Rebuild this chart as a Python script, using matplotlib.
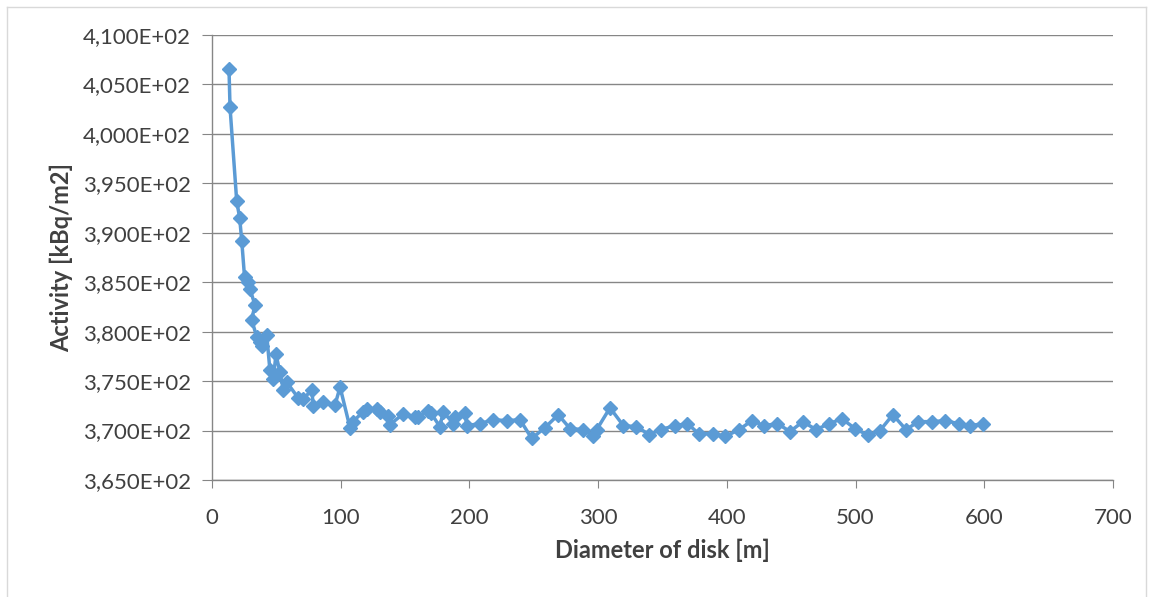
import matplotlib
matplotlib.use("Agg")
import matplotlib.pyplot as plt
from matplotlib.lines import Line2D
from matplotlib.ticker import FuncFormatter, MultipleLocator

# diameter of disk [m]
diameter = [13.2, 14.0, 19.2, 21.5, 23.1, 25.3, 28.2, 29.5, 33.4, 30.8,
            34.7, 37.3, 38.9, 42.5, 45.0, 47.6, 49.7, 52.8, 55.4, 58.0,
            67.0, 70.9, 77.5, 78.7, 86.5, 95.6, 99.5, 107.2, 109.3, 117.6,
            120.2, 128.0, 130.5, 137.0, 138.3, 148.6, 157.7, 160.0, 168.0, 170.0,
            177.0, 179.7, 187.5, 188.8, 196.6, 197.9, 208.0, 218.6, 229.0, 239.3,
            248.4, 258.7, 269.0, 278.2, 288.5, 296.3, 298.9, 309.2, 319.6, 329.5,
            339.8, 348.6, 359.8, 369.4, 378.0, 389.5, 398.6, 409.7, 419.3, 428.9,
            439.3, 449.1, 459.0, 469.3, 479.7, 489.3, 499.6, 510.0, 519.0, 528.9,
            539.2, 548.8, 559.0, 569.5, 580.0, 589.0, 599.3]

# activity [kBq/m2]
activity = [406.6, 402.7, 393.2, 391.5, 389.2, 385.5, 385.0, 384.3, 382.7, 381.2,
            379.5, 379.0, 378.5, 379.7, 376.1, 375.2, 377.7, 375.9, 374.1, 374.9,
            373.3, 373.2, 374.1, 372.5, 372.9, 372.6, 374.4, 370.3, 370.9, 371.9,
            372.2, 372.2, 371.9, 371.5, 370.6, 371.7, 371.4, 371.4, 372.0, 371.8,
            370.4, 371.9, 370.7, 371.4, 371.8, 370.5, 370.7, 371.1, 371.0, 371.1,
            369.2, 370.3, 371.6, 370.2, 370.1, 369.4, 370.1, 372.3, 370.5, 370.4,
            369.6, 370.1, 370.5, 370.7, 369.7, 369.7, 369.4, 370.1, 371.0, 370.5,
            370.7, 369.9, 370.9, 370.1, 370.7, 371.2, 370.2, 369.5, 370.0, 371.6,
            370.1, 370.9, 370.9, 371.0, 370.7, 370.5, 370.7]

plt.rcParams['font.family'] = ['Lato', 'DejaVu Sans']

fig = plt.figure(figsize=(11.51, 5.97), dpi=100)
ax = fig.add_axes([212/1151, 1 - 480/597, (1113 - 212)/1151, (480 - 35)/597])

ax.plot(diameter, activity, color='#5B9BD5', lw=2.5, marker='D', ms=7,
        markeredgecolor='#5B9BD5', zorder=3)

ax.set_xlim(0, 700)
ax.set_ylim(365, 410)
ax.xaxis.set_major_locator(MultipleLocator(100))
ax.yaxis.set_major_locator(MultipleLocator(5))
ax.yaxis.set_major_formatter(FuncFormatter(
    lambda v, p: f"{v/100:.3f}".replace('.', ',') + "E+02"))

ax.grid(axis='y', color='#868686', lw=1)
ax.set_axisbelow(True)
for s in ['top', 'right']:
    ax.spines[s].set_visible(False)
for s in ['left', 'bottom']:
    ax.spines[s].set_color('#868686')
    ax.spines[s].set_linewidth(1)

ax.tick_params(axis='y', direction='out', length=7, color='#868686',
               labelsize=16, labelcolor='#404040', pad=8)
ax.tick_params(axis='x', direction='out', length=6, color='#868686',
               labelsize=16, labelcolor='#404040', pad=14)

ax.set_xlabel('Diameter of disk [m]', fontsize=17, fontweight='bold',
              color='#404040', labelpad=8)
ax.set_ylabel('Activity [kBq/m2]', fontsize=17, fontweight='bold',
              color='#404040', labelpad=7)

# chart area border
W, H = 1151, 597
bc = '#d9d9d9'
fig.add_artist(Line2D([7/W, 7/W], [0, 1 - 7/H], color=bc, lw=1))
fig.add_artist(Line2D([7/W, 1146/W], [1 - 7/H, 1 - 7/H], color=bc, lw=1))
fig.add_artist(Line2D([1146/W, 1146/W], [0, 1 - 7/H], color=bc, lw=1))

fig.savefig('out.png', dpi=100, facecolor='white')
